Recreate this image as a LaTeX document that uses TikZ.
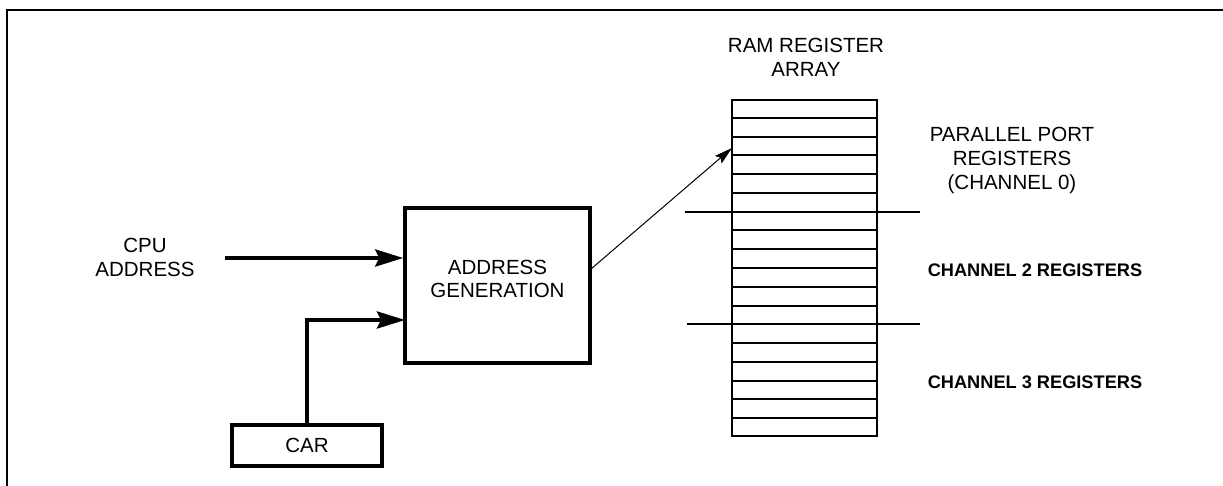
\documentclass[tikz,border=0pt]{standalone}
\usepackage{fontspec}
\setmainfont{Liberation Sans}
\usetikzlibrary{arrows.meta,calc}
\tikzset{
  lbl/.style={align=center,inner sep=0pt,font=\fontsize{10.25}{12}\selectfont},
  blbl/.style={inner sep=0pt,font=\fontsize{9.1}{11}\selectfont\bfseries},
  blockbox/.style={draw,line width=1.75pt,rectangle,inner sep=0pt,align=center,font=\fontsize{10.25}{11.5}\selectfont},
  regarray/.style={draw,line width=1pt,rectangle,inner sep=0pt,minimum width=72.5pt,minimum height=168pt},
  regline/.style={line width=1pt},
  divider/.style={line width=0.75pt},
  bigarrow/.style={line width=2pt,-{Stealth[length=14pt,width=8.5pt,inset=2pt]}},
  thinarrow/.style={line width=0.5pt,-{Stealth[length=9pt,width=5pt,inset=1.5pt]}},
  frameline/.style={line width=1.2pt}
}
\begin{document}
\begin{tikzpicture}[x=0.5pt,y=-0.5pt]
\useasboundingbox (0,0) rectangle (1223,486);
% frame (only left and top edges visible)
\draw[frameline] (7,486) -- (7,10) -- (1223,10);

% blocks
\node[blockbox,minimum width=92.5pt,minimum height=77.5pt] (ag) at (497.5,285.5) {ADDRESS\\GENERATION\\[-4.5pt]};
\node[blockbox,minimum width=75pt,minimum height=20.5pt] (car) at (307,445.5) {CAR};
\node[regarray] (ram) at (804.5,268) {};
\foreach \i in {1,...,17}
  \draw[regline] ($(ram.north west)!\i/18!(ram.south west)$) -- ($(ram.north east)!\i/18!(ram.south east)$);

% dividers
\draw[divider] (685,212) -- (920,212);
\draw[divider] (687,324) -- (920,324);

% labels
\node[lbl] (cpu) at (145,257.5) {CPU\\ADDRESS};
\node[lbl] (ramlbl) at (806,57.5) {RAM REGISTER\\ARRAY};
\node[lbl] (pplbl) at (1012,160.5) {PARALLEL PORT\\REGISTERS\\(CHANNEL 0)};
\node[blbl] (ch2) at (1035,270) {CHANNEL 2 REGISTERS};
\node[blbl] (ch3) at (1035,382) {CHANNEL 3 REGISTERS};

% connectors
\coordinate (cpustart) at (225,258);
\coordinate (carin) at (405,320);
\coordinate (agout) at (591,269);
\coordinate (ramin) at (732,148);
\draw[bigarrow] (cpustart) -- (cpustart -| ag.west);
\draw[bigarrow] (car.north) |- (carin);
\draw[thinarrow] (agout) -- (ramin);
\end{tikzpicture}
\end{document}
